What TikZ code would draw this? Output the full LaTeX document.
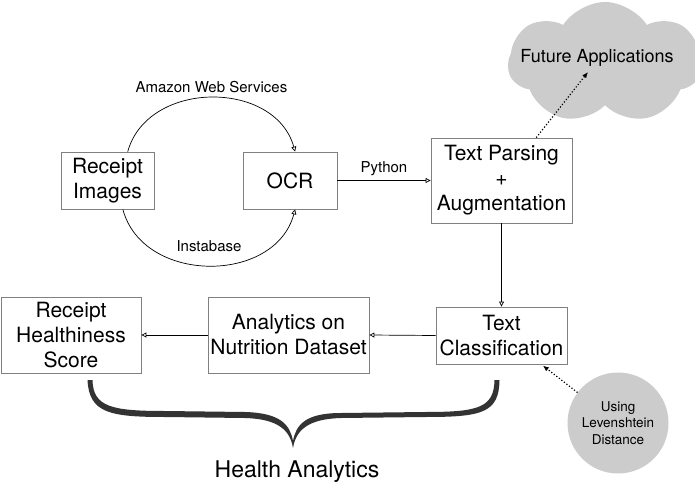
\documentclass[tikz,border=0pt]{standalone}
\usepackage{fontspec}
\setmainfont{TeX Gyre Heros}
\usetikzlibrary{arrows.meta,shapes.symbols}
\newcommand{\boxfont}{\fontsize{21}{25}\selectfont}
\newcommand{\labelfont}{\fontsize{15}{18}\selectfont}
\newcommand{\smallfont}{\fontsize{13.5}{16.5}\selectfont}
\tikzset{
  stagebox/.style={draw=black!50, line width=0.8pt, inner sep=0pt, align=center, font=\boxfont},
  flow/.style={line width=0.7pt, -{Triangle[open,length=5pt,width=5pt]}},
  hint/.style={dotted, line width=1.2pt, -{Latex[length=6pt,width=5pt]}},
}

\begin{document}
\begin{tikzpicture}[x=1pt,y=-1pt]
    \useasboundingbox (0,0) rectangle (695,494);

    % Top row
    \node[stagebox, minimum width=93pt, minimum height=57pt] (img) at (107.5,180.5) {Receipt\\Images};
    \node[stagebox, minimum width=94pt, minimum height=57pt] (ocr) at (290,180.5) {OCR};
    \node[stagebox, minimum width=141pt, minimum height=85pt] (parse) at (501.5,180.5) {Text Parsing\\+\\Augmentation};

    % Bottom row
    \node[stagebox, minimum width=131pt, minimum height=57pt] (classify) at (501.5,335.5) {Text\\Classification};
    \node[stagebox, minimum width=161pt, minimum height=76pt] (nutrition) at (288.5,335) {Analytics on\\Nutrition Dataset};
    \node[stagebox, minimum width=140pt, minimum height=76pt] (score) at (71,335) {Receipt\\Healthiness\\Score};

    % Side notes
    \node[cloud, cloud puffs=7, cloud puff arc=115, aspect=1.6, fill=black!20,
          minimum width=194pt, minimum height=122pt] (future) at (605,63) {};
    \node[font=\fontsize{18}{21}\selectfont] (futuretext) at (597,58) {Future Applications};
    \node[circle, fill=black!20, minimum size=101pt, inner sep=0pt, align=center, font=\smallfont] (leven) at (618,423) {Using\\Levenshtein\\Distance};

    % OCR services
    \draw[flow] (img.55) .. controls +(20,-72) and +(-20,-72) .. (ocr.80)
        node[midway, above=1pt, font=\labelfont] (aws) {Amazon Web Services};
    \draw[flow] (img.-62) .. controls +(20,75) and +(-20,75) .. (ocr.-80)
        node[midway, above=10pt, font=\labelfont] (insta) {Instabase};

    % Pipeline
    \draw[flow] (ocr.east) -- (parse.west) node[midway, above=1pt, font=\labelfont] (py) {Python};
    \draw[flow] (parse.south) -- (classify.north);
    \draw[flow] (classify.west) -- (nutrition.east);
    \draw[flow] (nutrition.west) -- (score.east);

    % Dotted hints
    \draw[hint] (parse.51) -- ([shift={(-9,14)}]futuretext.center);
    \draw[hint, shorten >=2pt] (leven.143) -- (classify.-36);

    % Brace
    \fill[black!80]
        (87.5,380) .. controls (89,413) and (110,417) .. (165,417) -- (245,418)
        .. controls (278,419) and (290,430) .. (293,448)
        .. controls (296,430) and (308,419) .. (341,418) -- (425,417)
        .. controls (482,417) and (499,413) .. (499.5,380) -- (494.5,380)
        .. controls (494,408) and (478,412) .. (425,412) -- (341,413)
        .. controls (305,413) and (296,425) .. (293,441)
        .. controls (290,425) and (281,413) .. (245,412) -- (165,411)
        .. controls (112,411) and (93,407) .. (92.5,380) -- cycle;
    \node[font=\fontsize{23}{27}\selectfont] (health) at (297,472) {Health Analytics};
\end{tikzpicture}
\end{document}
